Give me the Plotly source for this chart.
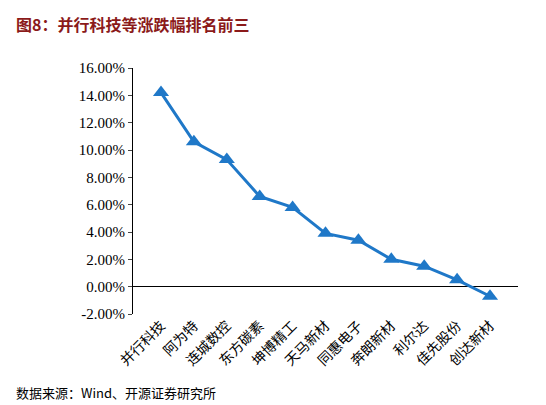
import plotly.graph_objects as go

names = ["并行科技", "阿为特", "连城数控", "东方碳素", "坤博精工", "天马新材",
         "同惠电子", "奔朗新材", "利尔达", "佳先股份", "创达新材"]
pct = [14.2, 10.6, 9.3, 6.6, 5.8, 3.9, 3.4, 2.0, 1.5, 0.5, -0.7]
yticks = [-2, 0, 2, 4, 6, 8, 10, 12, 14, 16]

fig = go.Figure()
fig.add_trace(go.Scatter(x=names, y=pct, mode="lines+markers",
                         line=dict(color="#1F78C8", width=3),
                         marker=dict(symbol="triangle-up", size=14, color="#1F78C8")))

fig.update_layout(
    width=546, height=405, showlegend=False,
    plot_bgcolor="white", paper_bgcolor="white",
    margin=dict(l=125, r=36, t=60, b=99),
    font=dict(family="Liberation Serif, Noto Serif CJK SC, Noto Sans CJK SC", size=15, color="black"),
    xaxis=dict(tickangle=-45, showline=False, ticks="",
               tickfont=dict(family="Noto Sans CJK SC", size=14)),
    yaxis=dict(range=[-2, 16], tickvals=yticks,
               ticktext=["%.2f%%" % v for v in yticks],
               showgrid=False, showline=True, linecolor="black",
               ticks="outside", ticklen=4, zeroline=True, zerolinecolor="black",
               zerolinewidth=1),
)
fig.add_annotation(text="<b>图8：并行科技等涨跌幅排名前三</b>", xref="paper", yref="paper",
                   x=-0.31, y=1.18, xanchor="left", yanchor="middle", showarrow=False,
                   font=dict(family="Noto Sans CJK SC", size=16, color="#8B1A1A"))
fig.add_annotation(text="数据来源：Wind、开源证券研究所", xref="paper", yref="paper",
                   x=-0.31, y=-0.32, xanchor="left", yanchor="middle", showarrow=False,
                   font=dict(family="Noto Sans CJK SC", size=13, color="black"))
fig.write_html("out.html")
